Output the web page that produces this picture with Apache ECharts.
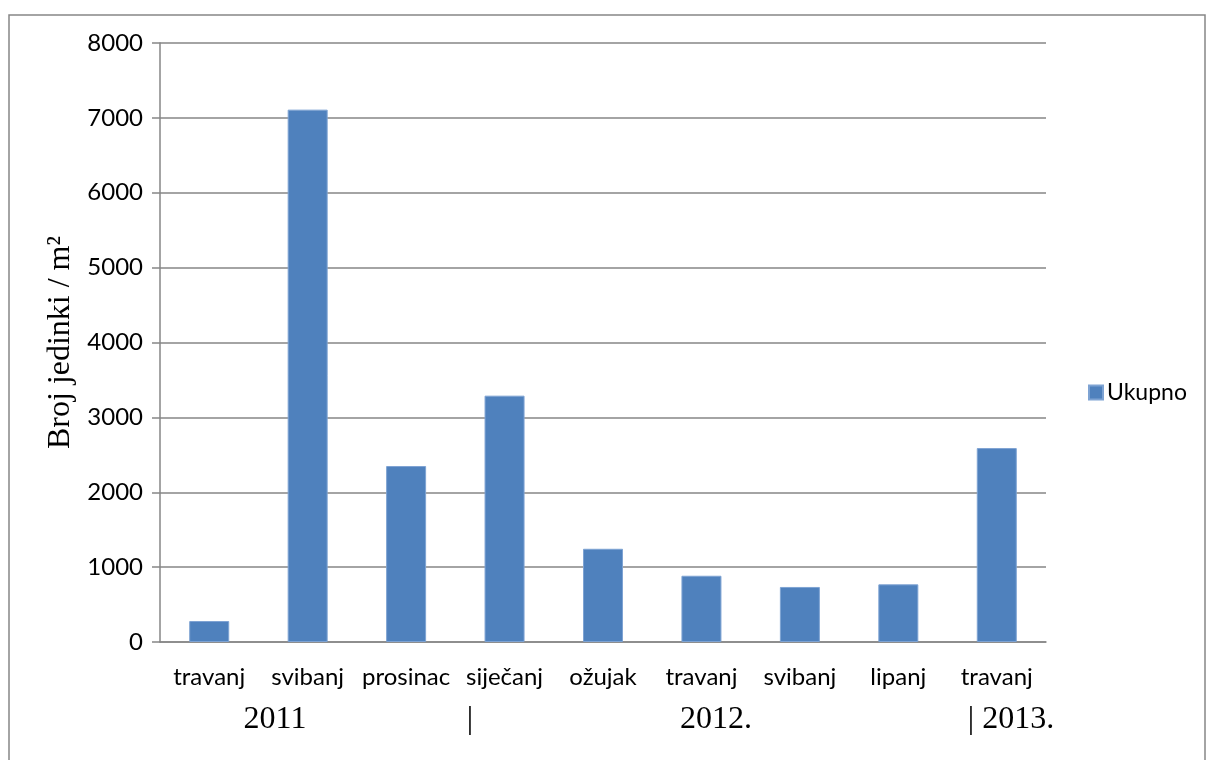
<!DOCTYPE html>
<html>
<head>
<meta charset="utf-8">
<script src="https://cdn.jsdelivr.net/npm/echarts@6/dist/echarts.min.js"></script>
<style>
html,body{margin:0;padding:0;background:#fff;}
#c{width:1207px;height:760px;}
</style>
</head>
<body>
<div id="c"></div>
<script>
const categories = ['travanj','svibanj','prosinac','siječanj','ožujak','travanj','svibanj','lipanj','travanj'];
const ukupno = [280, 7110, 2350, 3290, 1245, 885, 735, 770, 2590];
const yearLabels = ['2011', '|', '2012.', '| 2013.'];
const seriesName = 'Ukupno';
const yTitle = 'Broj jedinki / m²';

const chart = echarts.init(document.getElementById('c'), null, {renderer:'canvas'});
const labelFont = 'Lato, "Open Sans", sans-serif';
const serif = '"Liberation Serif", "DejaVu Serif", serif';
chart.setOption({
  animation:false,
  backgroundColor:'#fff',
  grid:{left:160, right:161, top:43, bottom:118, containLabel:false},
  legend:{
    data:[seriesName], orient:'vertical', left:1083, top:376,
    itemWidth:14, itemHeight:14, itemGap:5,
    icon:'rect',
    textStyle:{fontFamily:labelFont, fontSize:23, color:'#000', padding:[0,0,0,-1]}
  },
  xAxis:{
    type:'category', data:categories,
    axisLine:{lineStyle:{color:'#868686', width:1.5}},
    axisTick:{show:false},
    axisLabel:{fontFamily:labelFont, fontSize:24, color:'#000', margin:23, interval:0}
  },
  yAxis:{
    type:'value', min:0, max:8000, interval:1000,
    name:yTitle, nameLocation:'middle', nameGap:82,
    nameTextStyle:{fontFamily:serif, fontSize:32, color:'#000'},
    axisLine:{show:true, lineStyle:{color:'#868686', width:1.5}},
    axisTick:{show:true, length:8, lineStyle:{color:'#868686', width:1.5}},
    splitLine:{lineStyle:{color:'#868686', width:1.5}},
    axisLabel:{fontFamily:labelFont, fontSize:24, color:'#000', margin:17,
      formatter:(v)=>String(v)}
  },
  series:[{
    name:seriesName, type:'bar', data:ukupno, barWidth:40,
    itemStyle:{color:'#4f81bd', borderColor:'#7ea3d3', borderWidth:1}
  }],
  graphic:[
    {type:'rect', shape:{x:9, y:15, width:1196, height:760}, style:{fill:'none', stroke:'#868686', lineWidth:1.5}, silent:true},
    {type:'text', x:275, y:720, style:{text:yearLabels[0], font:'32px '+serif, fill:'#000', textAlign:'center', textVerticalAlign:'middle'}},
    {type:'text', x:470, y:720, style:{text:yearLabels[1], font:'32px '+serif, fill:'#000', textAlign:'center', textVerticalAlign:'middle'}},
    {type:'text', x:716, y:720, style:{text:yearLabels[2], font:'32px '+serif, fill:'#000', textAlign:'center', textVerticalAlign:'middle'}},
    {type:'text', x:1011, y:720, style:{text:yearLabels[3], font:'32px '+serif, fill:'#000', textAlign:'center', textVerticalAlign:'middle'}}
  ]
});
</script>
</body>
</html>
